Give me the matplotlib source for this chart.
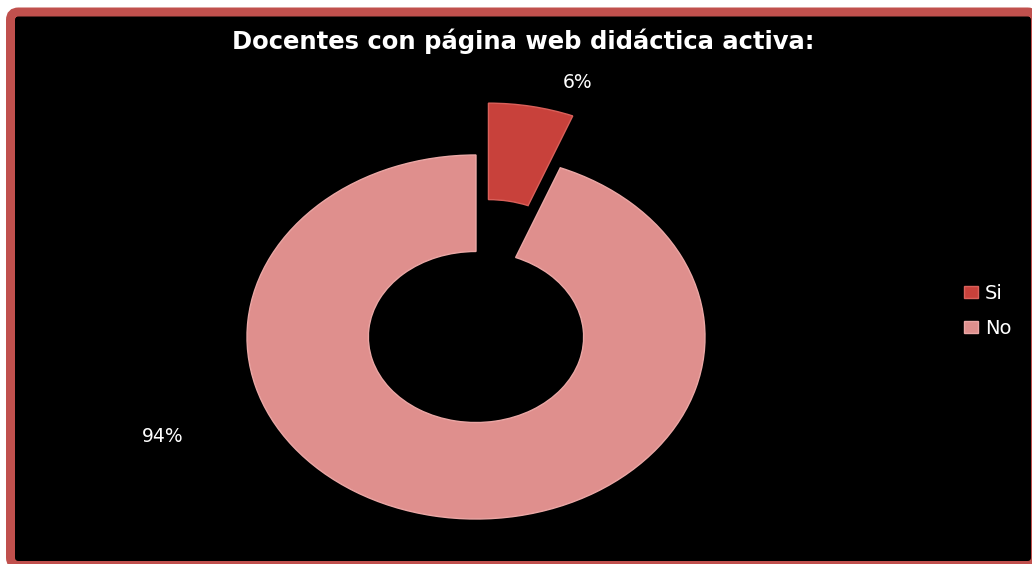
import matplotlib
matplotlib.use("Agg")
import matplotlib.pyplot as plt
from matplotlib.patches import FancyBboxPatch
from matplotlib.transforms import IdentityTransform

# Chart data
categories = ["Si", "No"]
values = [6, 94]
title = "Docentes con página web didáctica activa:"

colors = ["#c8413b", "#df8f8d"]
edge_colors = ["#d9605a", "#eba7a5"]
border_color = "#c0504d"
FONT = "DejaVu Sans"

W, H, DPI = 1032, 564, 100
fig = plt.figure(figsize=(W / DPI, H / DPI), dpi=DPI, facecolor="white")

# Framed black panel (pixel coordinates, origin bottom-left)
frame = FancyBboxPatch((10.5, H - 565.5), 1035.5 - 10.5, 565.5 - 12,
                       boxstyle="round,pad=0,rounding_size=8",
                       transform=IdentityTransform(), facecolor="black",
                       edgecolor=border_color, linewidth=9 * 72 / DPI,
                       zorder=-10)
fig.patches.append(frame)

# Donut axes: centre (476, 337) px, radii 229 x 182 px
cx, cy, rx, ry, L = 476, 337, 229, 182, 1.6
ax = fig.add_axes([(cx - rx * L) / W, (H - cy - ry * L) / H,
                   2 * rx * L / W, 2 * ry * L / H], zorder=1)
ax.patch.set_visible(False)

wedges, _, autotexts = ax.pie(values, colors=colors, startangle=90,
                              counterclock=False, explode=[0.29, 0],
                              radius=1.0, autopct="%1.0f%%",
                              wedgeprops=dict(width=0.53, linewidth=1.0),
                              textprops=dict(color="white", fontsize=13.5,
                                             family=FONT))
for w, ec in zip(wedges, edge_colors):
    w.set_edgecolor(ec)

ax.set_xlim(-L, L)
ax.set_ylim(-L, L)
ax.set_aspect("auto")
ax.axis("off")

label_pos = [(0.445, 1.396), (-1.367, -0.549)]
for t, (x, y) in zip(autotexts, label_pos):
    t.set_position((x, y))
    t.set_ha("center")
    t.set_va("center")

fig.text(523 / W, 1 - 41 / H, title, ha="center", va="center", color="white",
         fontsize=17.5, fontweight="bold", family=FONT, zorder=2)

leg = fig.legend(wedges, categories, loc="center left",
                 bbox_to_anchor=(946 / W, 1 - 311 / H), frameon=False,
                 labelcolor="white", prop=dict(family=FONT, size=14),
                 handlelength=0.75, handleheight=0.55, handletextpad=0.35,
                 labelspacing=0.8)
leg.set_zorder(2)

fig.savefig("out.png", dpi=DPI, facecolor="white")
